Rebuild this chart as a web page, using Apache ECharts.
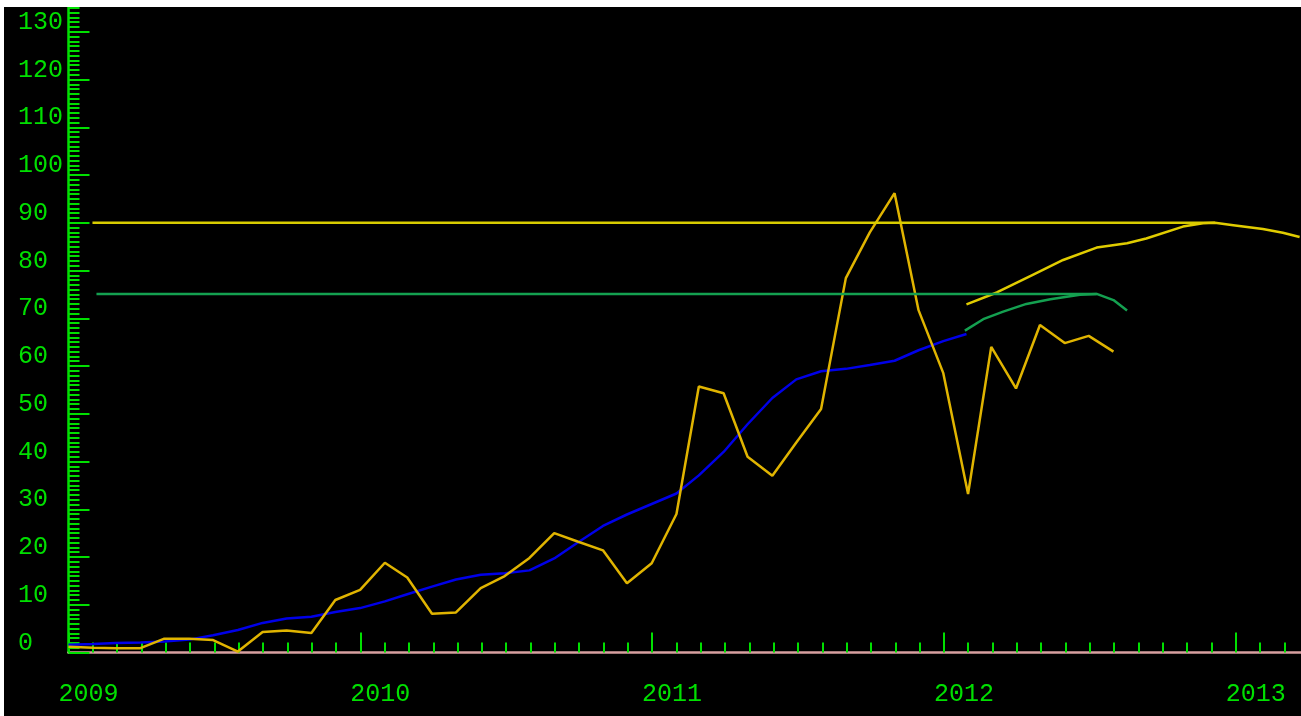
<!DOCTYPE html>
<html><head><meta charset="utf-8">
<script src="https://cdn.jsdelivr.net/npm/echarts@6/dist/echarts.min.js"></script>
<style>
html,body{margin:0;padding:0;background:#fff;width:1301px;height:716px;overflow:hidden;}
#w{position:absolute;left:4px;top:7px;width:1297px;height:709px;background:#000;overflow:hidden;}
#c{position:absolute;left:0;top:-23px;width:1524px;height:732px;}
</style></head><body><div id="w"><div id="c"></div></div>
<script>
// ---- data ----
const yearLabels = ['2009','2010','2011','2012','2013','2014'];
const valueLabels = ['0','10','20','30','40','50','60','70','80','90','100','110','120','130'];

const monthDates = [
 '2009-01-01','2009-02-01','2009-03-01','2009-04-01','2009-05-01','2009-06-01','2009-07-01','2009-08-01','2009-09-01','2009-10-01','2009-11-01','2009-12-01',
 '2010-01-01','2010-02-01','2010-03-01','2010-04-01','2010-05-01','2010-06-01','2010-07-01','2010-08-01','2010-09-01','2010-10-01','2010-11-01','2010-12-01',
 '2011-01-01','2011-02-01','2011-03-01','2011-04-01','2011-05-01','2011-06-01','2011-07-01','2011-08-01','2011-09-01','2011-10-01','2011-11-01','2011-12-01',
 '2012-01-01','2012-02-01','2012-03-01','2012-04-01','2012-05-01','2012-06-01','2012-07-01','2012-08-01'
];
const monthlyValues = [
 1.2, 1.0, 0.9, 0.9, 2.9, 2.9, 2.6, 0.2, 4.3, 4.6, 4.1, 11.0,
 13.1, 18.8, 15.7, 8.1, 8.4, 13.5, 16.0, 19.8, 25.0, 23.2, 21.4, 14.5,
 18.7, 29.0, 55.7, 54.3, 41.0, 37.0, 44.0, 51.0, 78.4, 88.0, 96.2, 71.7,
 58.5, 33.2, 64.0, 55.3, 68.6, 64.8, 66.3, 63.0
];

const trendDates = [
 '2009-01-01','2009-02-01','2009-03-01','2009-04-01','2009-05-01','2009-06-01','2009-07-01','2009-08-01','2009-09-01','2009-10-01','2009-11-01','2009-12-01',
 '2010-01-01','2010-02-01','2010-03-01','2010-04-01','2010-05-01','2010-06-01','2010-07-01','2010-08-01','2010-09-01','2010-10-01','2010-11-01','2010-12-01',
 '2011-01-01','2011-02-01','2011-03-01','2011-04-01','2011-05-01','2011-06-01','2011-07-01','2011-08-01','2011-09-01','2011-10-01','2011-11-01','2011-12-01',
 '2012-01-01','2012-01-30'
];
const trendValues = [
 1.6, 1.8, 2.0, 2.1, 2.3, 2.7, 3.6, 4.7, 6.2, 7.1, 7.5, 8.5,
 9.3, 10.7, 12.2, 13.8, 15.3, 16.3, 16.6, 17.2, 19.7, 23.1, 26.5, 28.9,
 31.1, 33.3, 37.1, 42.0, 47.8, 53.3, 57.2, 58.9, 59.4, 60.2, 61.1, 63.3,
 65.2, 66.7
];

const highDates = ['2012-01-30','2012-03-08','2012-04-22','2012-05-30','2012-07-11','2012-08-18','2012-09-11','2012-10-27','2012-11-21','2012-12-06','2012-12-29','2013-02-04','2013-03-01','2013-03-22'];
const highValues = [72.9, 75.4, 79.1, 82.2, 84.8, 85.7, 86.7, 89.2, 89.9, 90.0, 89.5, 88.7, 87.9, 87.0];
const highLevel = 90.0;
const highLevelDates = ['2009-01-31','2012-12-06'];

const lowDates = ['2012-01-28','2012-02-20','2012-03-16','2012-04-14','2012-05-14','2012-06-20','2012-07-11','2012-08-01','2012-08-18'];
const lowValues = [67.4, 69.8, 71.4, 73.0, 74.0, 74.9, 75.1, 73.8, 71.6];
const lowLevel = 75.1;
const lowLevelDates = ['2009-02-05','2012-07-11'];

// ---- helpers ----
const DAY = 86400000, T0 = Date.UTC(2009, 0, 1);
function toDay(s) { const p = s.split('-').map(Number); return (Date.UTC(p[0], p[1]-1, p[2]) - T0) / DAY; }
function pairs(ds, vs) { return ds.map((d, i) => [toDay(d), vs[i]]); }
function level(ds, v) { return ds.map(d => [toDay(d), v]); }

const GREEN = '#00e000';
const FONT = 'Liberation Mono';
const YEAR = 365.25;

const chart = echarts.init(document.getElementById('c'), null, {renderer: 'canvas'});
chart.setOption({
  backgroundColor: 'transparent',
  animation: false,
  grid: {left: 64.5, right: 0.5, top: 0, bottom: 63.5, containLabel: false},
  xAxis: {
    type: 'value', min: 0, max: 5 * YEAR, interval: YEAR,
    axisLine: {show: true, onZero: false, lineStyle: {color: '#d8a0a0', width: 2.5}},
    axisTick: {show: true, inside: true, length: 20, lineStyle: {color: GREEN, width: 2}},
    minorTick: {show: true, splitNumber: 12, length: 10, lineStyle: {color: GREEN, width: 2}},
    splitLine: {show: false}, minorSplitLine: {show: false},
    axisLabel: {
      show: true, color: GREEN, fontFamily: FONT, fontSize: 25,
      margin: 42, verticalAlign: 'middle', align: 'center', padding: [0, 0, 0, 40],
      showMinLabel: true, showMaxLabel: false,
      formatter: v => yearLabels[Math.round(v / YEAR)] || ''
    }
  },
  yAxis: {
    type: 'value', min: 0, max: 140, interval: 10,
    axisLine: {show: true, lineStyle: {color: GREEN, width: 2.5}},
    axisTick: {show: true, inside: true, length: 21, lineStyle: {color: GREEN, width: 2}},
    minorTick: {show: true, splitNumber: 10, length: 11, lineStyle: {color: GREEN, width: 2}},
    splitLine: {show: false}, minorSplitLine: {show: false},
    axisLabel: {
      show: true, color: GREEN, fontFamily: FONT, fontSize: 25,
      margin: 50.5, align: 'left', verticalAlign: 'bottom', lineHeight: 19,
      showMinLabel: true, showMaxLabel: false,
      formatter: v => valueLabels[Math.round(v / 10)] || ''
    }
  },
  series: [
    {type: 'line', name: 'trend', data: pairs(trendDates, trendValues), showSymbol: false, symbol: 'none',
     lineStyle: {color: '#0000e8', width: 2.5}, z: 2},
    {type: 'line', name: 'monthly', data: pairs(monthDates, monthlyValues), showSymbol: false, symbol: 'none',
     lineStyle: {color: '#e0b400', width: 2.5}, z: 3},
    {type: 'line', name: 'highLevel', data: level(highLevelDates, highLevel), showSymbol: false, symbol: 'none',
     lineStyle: {color: '#d8cc00', width: 2.5}, z: 4},
    {type: 'line', name: 'high', data: pairs(highDates, highValues), showSymbol: false, symbol: 'none',
     lineStyle: {color: '#e0cc00', width: 2.5}, z: 4},
    {type: 'line', name: 'lowLevel', data: level(lowLevelDates, lowLevel), showSymbol: false, symbol: 'none',
     lineStyle: {color: '#14a050', width: 2.5}, z: 4},
    {type: 'line', name: 'low', data: pairs(lowDates, lowValues), showSymbol: false, symbol: 'none',
     lineStyle: {color: '#14a050', width: 2.5}, z: 4}
  ]
});
</script></body></html>
